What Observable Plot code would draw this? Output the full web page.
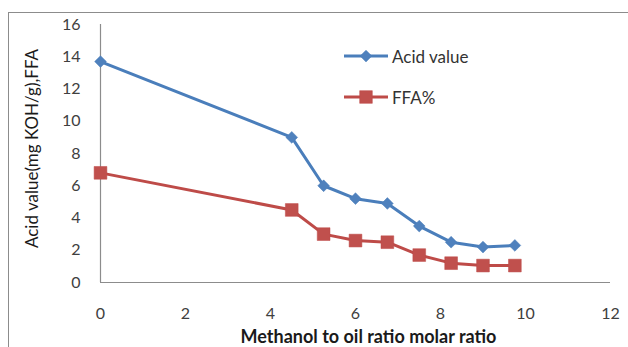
<!DOCTYPE html>
<html>
<head>
<meta charset="utf-8">
<script src="https://cdn.jsdelivr.net/npm/d3@7"></script>
<script src="https://cdn.jsdelivr.net/npm/@observablehq/plot@0.6"></script>
<style>
  html, body { margin: 0; padding: 0; background: #fff; overflow: hidden; }
  #wrap { position: relative; width: 628px; height: 347px; overflow: hidden; font-family: Lato, "Open Sans", sans-serif; }
  #border { position: absolute; left: 8px; top: 12px; width: 700px; height: 400px; border: 1.5px solid #8c8c8c; box-sizing: border-box; }
  #chart { position: absolute; left: 0; top: 0; }
  #legend { position: absolute; left: 344px; top: 46px; font-size: 17px; color: #333; }
  .item { display: flex; align-items: center; height: 20px; margin-bottom: 21px; }
  .item span { margin-left: 2px; }
</style>
</head>
<body>
<div id="wrap">
  <div id="border"></div>
  <div id="chart"></div>
  <div id="legend"></div>
</div>
<script>
const ratio = [0, 4.5, 5.25, 6, 6.75, 7.5, 8.25, 9, 9.75];
const acidValue = [13.7, 9.0, 6.0, 5.2, 4.9, 3.5, 2.5, 2.2, 2.3];
const ffaPercent = [6.8, 4.5, 3.0, 2.6, 2.5, 1.7, 1.2, 1.05, 1.05];
const seriesNames = ["Acid value", "FFA%"];
const xTicks = [0, 2, 4, 6, 8, 10, 12];
const yTicks = [0, 2, 4, 6, 8, 10, 12, 14, 16];

const blueLine = "#4a7ebb", blueFill = "#4f81bd";
const redLine = "#be4b48", redFill = "#c0504d";

const acid = ratio.map((x, i) => ({x, y: acidValue[i]}));
const ffa = ratio.map((x, i) => ({x, y: ffaPercent[i]}));

const chart = Plot.plot({
  width: 628,
  height: 347,
  marginLeft: 100,
  marginRight: 18,
  marginTop: 24,
  marginBottom: 65,
  style: {fontFamily: "Lato, 'Open Sans', sans-serif", fontSize: "16px", color: "#404040", background: "transparent"},
  x: {domain: [0, 12], ticks: xTicks, tickSize: 0, tickPadding: 25, label: null},
  y: {domain: [0, 16], ticks: yTicks, tickSize: 0, tickPadding: 20, label: null},
  marks: [
    Plot.ruleY([0], {stroke: "#8c8c8c", strokeWidth: 1.2}),
    Plot.ruleX([0], {stroke: "#8c8c8c", strokeWidth: 1.2}),
    Plot.line(ffa, {x: "x", y: "y", stroke: redLine, strokeWidth: 3}),
    Plot.dot(ffa, {x: "x", y: "y", symbol: "square", r: 7.2, fill: redFill, stroke: redLine, strokeWidth: 0.5}),
    Plot.line(acid, {x: "x", y: "y", stroke: blueLine, strokeWidth: 3}),
    Plot.dot(acid, {x: "x", y: "y", symbol: "diamond2", r: 5.3, fill: blueFill, stroke: blueLine, strokeWidth: 0.5}),
    Plot.text(["Methanol to oil ratio molar ratio"], {frameAnchor: "bottom", dx: 13, dy: 60, fontWeight: "bold", fontSize: 18, fill: "#1a1a1a"}),
    Plot.text(["Acid value(mg KOH/g),FFA"], {frameAnchor: "left", textAnchor: "middle", dx: -68, dy: -5, rotate: -90, fontSize: 17, fill: "#1a1a1a"})
  ]
});
document.getElementById("chart").appendChild(chart);

// legend
const legend = d3.select("#legend");
const symbols = [d3.symbolDiamond2, d3.symbolSquare];
const sizes = [88, 160];
const lines = [blueLine, redLine];
const fills = [blueFill, redFill];
seriesNames.forEach((name, i) => {
  const item = legend.append("div").attr("class", "item");
  const svg = item.append("svg").attr("width", 46).attr("height", 20);
  svg.append("line").attr("x1", 0).attr("x2", 44).attr("y1", 10).attr("y2", 10).attr("stroke", lines[i]).attr("stroke-width", 3);
  svg.append("path").attr("d", d3.symbol(symbols[i], sizes[i])()).attr("transform", "translate(22,10)").attr("fill", fills[i]).attr("stroke", lines[i]).attr("stroke-width", 0.5);
  item.append("span").text(name);
});
</script>
</body>
</html>
